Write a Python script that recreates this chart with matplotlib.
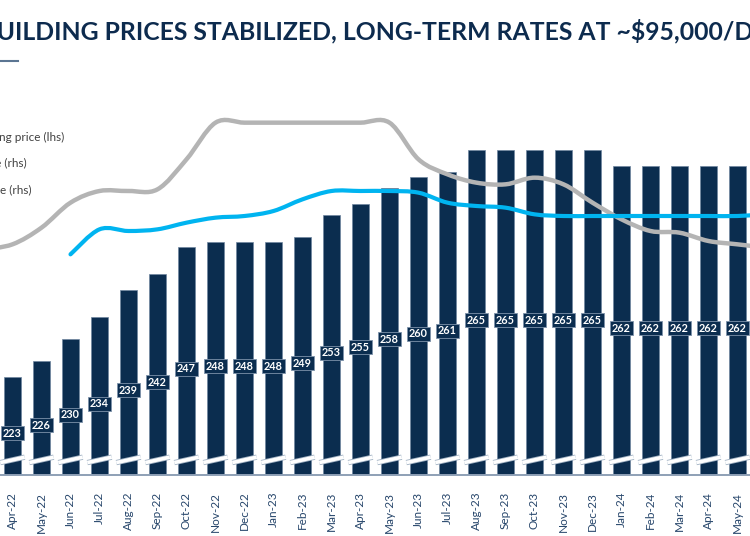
import numpy as np
import matplotlib
matplotlib.use("Agg")
import matplotlib.pyplot as plt
import matplotlib.patheffects as pe
from matplotlib.path import Path
from matplotlib.patches import PathPatch, Rectangle
from matplotlib import font_manager

# Months shown (Mar-22 and Jun-24 sit just outside the cropped view)
months = ["Mar-22", "Apr-22", "May-22", "Jun-22", "Jul-22", "Aug-22", "Sep-22",
          "Oct-22", "Nov-22", "Dec-22", "Jan-23", "Feb-23", "Mar-23", "Apr-23",
          "May-23", "Jun-23", "Jul-23", "Aug-23", "Sep-23", "Oct-23", "Nov-23",
          "Dec-23", "Jan-24", "Feb-24", "Mar-24", "Apr-24", "May-24", "Jun-24"]

# Newbuilding price, $m (bars, Apr-22 .. May-24)
price_months = months[1:-1]
newbuild_price = [223, 226, 230, 234, 239, 242, 247, 248, 248, 248, 249, 253, 255,
                  258, 260, 261, 265, 265, 265, 265, 265, 262, 262, 262, 262, 262]

# Time charter rates, $000/day (rhs)
short_rate = [75, 78, 88, 103, 110, 110, 111, 129, 151, 151, 151, 151, 151, 151,
              151, 129, 120, 115, 114, 118, 114, 103, 93, 86, 85, 80, 78, 76]
long_rate = [np.nan, np.nan, np.nan, 72, 87, 86, 87, 91, 94, 95, 98, 105, 110, 110,
             110, 109, 103, 101, 100, 96, 95, 95, 95, 95, 95, 95, 95, 96]

title = "NEWBUILDING PRICES STABILIZED, LONG-TERM RATES AT ~$95,000/DAY"

navy = "#0b2d4f"
installed = {f.name for f in font_manager.fontManager.ttflist}
font = "Lato" if "Lato" in installed else "DejaVu Sans"
title_font = "Liberation Sans Narrow" if "Liberation Sans Narrow" in installed else font
plt.rcParams["font.family"] = [font, "DejaVu Sans"]


def smooth_path(x, y):
    # Catmull-Rom style smoothing, drawn as cubic bezier path
    pts = [np.array(p) for p in zip(x, y) if not np.isnan(p[1])]
    n = len(pts)
    verts = [pts[0]]
    codes = [Path.MOVETO]
    for i in range(n - 1):
        p0 = pts[i - 1] if i > 0 else pts[i]
        p1 = pts[i]
        p2 = pts[i + 1]
        p3 = pts[i + 2] if i + 2 < n else p2
        verts += [p1 + (p2 - p0) / 6, p2 - (p3 - p1) / 6, p2]
        codes += [Path.CURVE4] * 3
    return Path(verts, codes)


fig = plt.figure(figsize=(7.5, 5.36), dpi=100)
ax = fig.add_axes([0, 61 / 536, 1, 375 / 536])
ax2 = ax.twinx()

x_all = np.arange(len(months))
x_bar = np.array([months.index(m) for m in price_months])

ax.bar(x_bar, newbuild_price, width=0.58, color=navy, edgecolor="#6f86a0",
       linewidth=0.5, zorder=2)

# axis break marks on each bar
for xb in x_bar:
    ax.plot([xb - 0.42, xb + 0.42], [207.1, 208.1], color="white", lw=2.6,
            solid_capstyle="butt", zorder=3,
            path_effects=[pe.Stroke(linewidth=3.8, foreground="#9fb0c2"), pe.Normal()])

# value labels in boxes
for xb, v in zip(x_bar, newbuild_price):
    ly = (v + 202) / 2
    ax.add_patch(Rectangle((xb - 0.4, ly - 1.3), 0.8, 2.6, facecolor=navy,
                           edgecolor="#7d92aa", linewidth=0.6, zorder=4))
    ax.text(xb, ly, str(v), color="white", fontsize=7.8, fontweight="bold",
            ha="center", va="center", zorder=5)

# rate lines
ax2.add_patch(PathPatch(smooth_path(x_all, short_rate), fill=False,
                        edgecolor="#b4b4b4", lw=3.2, capstyle="round", zorder=6))
ax2.add_patch(PathPatch(smooth_path(x_all, np.array(long_rate, dtype=float)), fill=False,
                        edgecolor="#00b4f0", lw=3.0, capstyle="round", zorder=7))

ax.set_xticks(x_all)
ax.set_xticklabels(months, rotation=90, fontsize=8.5, color="#27466b")
ax.tick_params(axis="x", length=0, pad=12)
ax.set_yticks([])
ax2.set_yticks([])
for a in (ax, ax2):
    for s in ("top", "left", "right", "bottom"):
        a.spines[s].set_visible(False)
ax.spines["bottom"].set_visible(True)
ax.spines["bottom"].set_color("#8ea0b6")
ax.spines["bottom"].set_linewidth(1.4)

# limits last so nothing autoscales them again
ax.set_xlim(1 - 12.5 / 29, 1 + 737.5 / 29)
ax2.set_xlim(1 - 12.5 / 29, 1 + 737.5 / 29)
ax.set_ylim(204.8, 274.3)
ax2.set_ylim(-60.4, 164.6)

# legend (cropped on the left in the source slide)
legend_texts = ["Newbuilding price (lhs)", "1-year TC rate (rhs)", "10-year TC rate (rhs)"]
legend_right = [64, 27, 32]
legend_y = [137, 163, 190]
for t, xr, yy in zip(legend_texts, legend_right, legend_y):
    fig.text(xr / 750, 1 - yy / 536, t, ha="right", va="center", fontsize=8.5,
             color="#404040")

# title (cropped at both sides): size it so "UILDING ... /D" spans the width
renderer = fig.canvas.get_renderer()
probe = fig.text(0, 0, title[4:-2], fontsize=20, fontweight="bold", family=title_font)
w_vis = probe.get_window_extent(renderer).width
probe.set_text(title[:4])
w_pre = probe.get_window_extent(renderer).width
probe.remove()
tsize = 20 * 758 / w_vis
t = fig.text(0, 1 - 31 / 536, title, ha="left", va="center", fontsize=tsize,
             fontweight="bold", color="#0d2b4e", family=title_font)
t.set_x((-3 - w_pre * tsize / 20) / 750)
fig.add_artist(plt.Line2D([0, 18 / 750], [1 - 61 / 536] * 2, color="#5b7592", lw=1.5))

fig.savefig("out.png", dpi=100)
